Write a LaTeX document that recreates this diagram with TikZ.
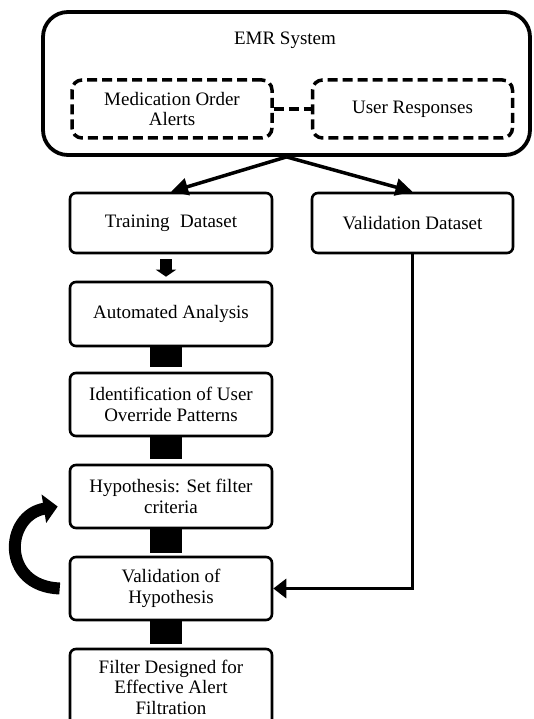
\documentclass[tikz,border=0pt]{standalone}
\usepackage{fontspec}
\setmainfont{Liberation Serif}
\usetikzlibrary{arrows.meta}
\begin{document}
\begin{tikzpicture}[x=1pt,y=-1pt,
  every node/.style={font=\fontsize{19}{20.5}\selectfont},
  box/.style={draw, line width=2.6pt, rounded corners=6pt, fill=white, align=center, inner sep=0pt, minimum width=202pt},
  dbox/.style={draw, line width=3.5pt, rounded corners=10pt, dash pattern=on 10pt off 5pt, align=center, inner sep=0pt, minimum width=200pt, minimum height=58pt},
  arr/.style={line width=3.5pt, -{Triangle[length=17pt,width=17pt]}},
  blk/.style={line width=32pt},
  ]
\useasboundingbox (0,0) rectangle (533,719);
\clip (0,0) rectangle (533,719);
\node[draw, line width=3.8pt, rounded corners=25pt, minimum width=487pt, minimum height=143pt, inner sep=0pt] (emr) at (286.5,83.5) {};
\node (emrlabel) at (285,40) {EMR System};
\node[dbox] (med) at (172,109) {Medication Order\\Alerts};
\node[dbox] (usr) at (412.5,109) {User Responses};
\draw[line width=3.5pt, dash pattern=on 10pt off 5pt] (med.east) -- (usr.west);

\node[box, minimum height=60pt] (train) at (171,223) {Training\hspace{0.3em} Dataset};
\node[box, minimum width=201pt, minimum height=60pt] (valds) at (412.5,223) {Validation Dataset};
\node[box, minimum height=64pt] (auto) at (171,314) {Automated Analysis};
\node[box, minimum height=63pt] (ident) at (171,404.5) {Identification of User\\Override Patterns};
\node[box, minimum height=63pt] (hyp) at (171,496.5) {Hypothesis: Set filter\\criteria};
\node[box, minimum height=63pt] (valh) at (171,588.5) {Validation of\\Hypothesis};
\node[box, minimum height=76pt] (filt) at (171,687) {Filter Designed for\\Effective Alert\\Filtration};

\draw[arr] (emr.south) -- (train.north);
\draw[arr] (emr.south) -- (valds.north);

\draw[line width=12pt, -{Triangle[length=7pt,width=20pt]}] ([xshift=-5pt,yshift=-5pt]train.south) -- ([xshift=-5pt,yshift=4pt]auto.north);

\draw[blk] ([xshift=-5pt]auto.south) -- ([xshift=-5pt,yshift=5pt]ident.north);
\draw[blk] ([xshift=-5pt]ident.south) -- ([xshift=-5pt,yshift=5pt]hyp.north);
\draw[blk] ([xshift=-5pt]hyp.south) -- ([xshift=-5pt,yshift=3pt]valh.north);
\draw[blk] ([xshift=-5pt]valh.south) -- ([xshift=-5pt,yshift=4pt]filt.north);

\coordinate (bend) at (valds.south |- valh.east);
\draw[line width=3.5pt, -{Triangle[length=13pt,width=19pt]}] (valds.south) -- (bend) -- (valh.east);

\draw[line width=12pt, -{Triangle[length=14pt,width=28pt]}] ([xshift=-9pt]valh.west) .. controls (0,586) and (5,515) .. ([xshift=-11pt,yshift=-10pt]hyp.west);
\end{tikzpicture}
\end{document}
